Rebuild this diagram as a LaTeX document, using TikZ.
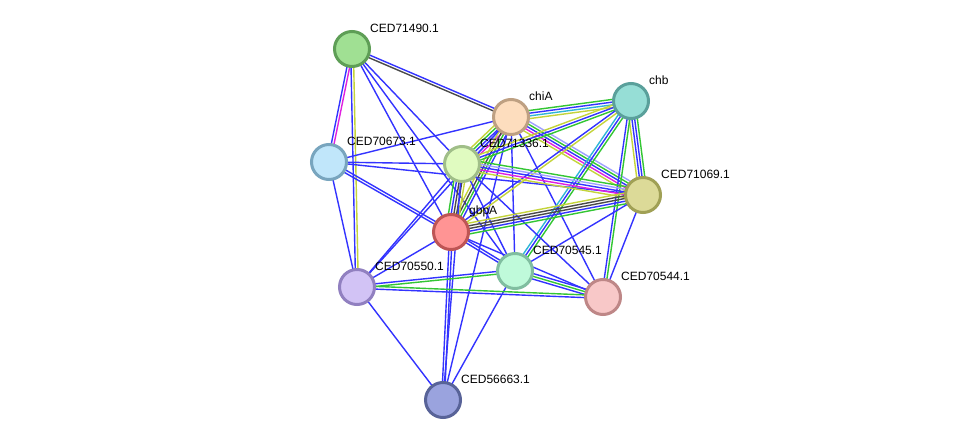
\documentclass[tikz,border=0pt]{standalone}
\usepackage{fontspec}
\setmainfont{Liberation Sans}
\usetikzlibrary{calc,backgrounds}
\definecolor{sblue}{HTML}{3333FF}
\definecolor{sgreen}{HTML}{33C633}
\definecolor{syel}{HTML}{C4D43A}
\definecolor{sgray}{HTML}{4A4A4A}
\definecolor{smag}{HTML}{E020E0}
\definecolor{scyan}{HTML}{2FB6D6}
\definecolor{slav}{HTML}{A0A0FF}
% one coloured line per evidence channel, side by side
\newcommand{\edge}[3]{%
  \foreach \c [count=\k] in {#3} {\xdef\ncol{\k}}%
  \foreach \c [count=\k] in {#3} {%
    \pgfmathsetmacro\off{(\k-(\ncol+1)/2)*2.7}%
    \draw[\c, line width=1.4pt] ($(#1)!\off pt!90:(#2)$) -- ($(#2)!\off pt!-90:(#1)$);
  }}

\begin{document}
\begin{tikzpicture}[x=1pt, y=-1pt,
  prot/.style={circle, minimum size=35pt, inner sep=0pt, line width=3pt},
  plabel/.style={anchor=west, font=\fontsize{12}{14}\selectfont, inner sep=0pt}]
 \useasboundingbox (0,0) rectangle (976,446);
 \node[prot, fill={rgb,255:red,160;green,224;blue,147}, draw={rgb,255:red,94;green,158;blue,86}] (c71490) at (352,49) {};
 \node[prot, fill={rgb,255:red,253;green,221;blue,190}, draw={rgb,255:red,190;green,160;blue,130}] (chiA) at (511,117) {};
 \node[prot, fill={rgb,255:red,150;green,222;blue,214}, draw={rgb,255:red,90;green,160;blue,155}] (chb) at (631,101) {};
 \node[prot, fill={rgb,255:red,192;green,230;blue,250}, draw={rgb,255:red,120;green,165;blue,190}] (c70673) at (329,162) {};
 \node[prot, fill={rgb,255:red,224;green,251;blue,192}, draw={rgb,255:red,160;green,190;blue,136}] (c71336) at (462,164) {};
 \node[prot, fill={rgb,255:red,220;green,218;blue,152}, draw={rgb,255:red,160;green,160;blue,85}] (c71069) at (643,195) {};
 \node[prot, fill={rgb,255:red,255;green,148;blue,148}, draw={rgb,255:red,190;green,85;blue,85}] (gbpA) at (451,232) {};
 \node[prot, fill={rgb,255:red,191;green,250;blue,218}, draw={rgb,255:red,128;green,190;blue,160}] (c70545) at (515,271) {};
 \node[prot, fill={rgb,255:red,210;green,195;blue,245}, draw={rgb,255:red,145;green,128;blue,192}] (c70550) at (357,287) {};
 \node[prot, fill={rgb,255:red,248;green,200;blue,200}, draw={rgb,255:red,190;green,135;blue,135}] (c70544) at (603,297) {};
 \node[prot, fill={rgb,255:red,154;green,163;blue,222}, draw={rgb,255:red,88;green,99;blue,152}] (c56663) at (443,400) {};
 \foreach \n/\t in {c71490/CED71490.1, chiA/chiA, chb/chb, c70673/CED70673.1, c71336/CED71336.1,
   c71069/CED71069.1, gbpA/gbpA, c70545/CED70545.1, c70550/CED70550.1, c70544/CED70544.1, c56663/CED56663.1}
   \node[plabel] (\n-l) at ($(\n)+(18,-21)$) {\t};
 \begin{scope}[on background layer]
  \fill[white] (0,0) rectangle (976,446);
  \edge{c71490}{c70673}{sblue,smag}
  \edge{c71490}{c70550}{sblue,syel}
  \edge{c71490}{chiA}{sgray,sblue}
  \edge{c71490}{c71336}{sblue}
  \edge{c71490}{gbpA}{sblue}
  \edge{c71490}{c70545}{sblue}
  \edge{c70673}{chiA}{sblue}
  \edge{c70673}{c71336}{sblue}
  \edge{c70673}{c71069}{sblue}
  \edge{c70673}{gbpA}{sblue,sblue}
  \edge{c70673}{c70550}{sblue}
  \edge{chiA}{chb}{syel,scyan,sblue,sgreen}
  \edge{chiA}{c71069}{syel,smag,sblue,sgreen,slav}
  \edge{chiA}{c71336}{syel,sgreen,sblue,slav,smag}
  \edge{chiA}{gbpA}{syel,sgray,sgreen,sblue}
  \edge{chiA}{c70545}{sblue}
  \edge{chiA}{c70544}{sblue}
  \edge{chiA}{c70550}{sblue}
  \edge{chiA}{c56663}{sblue}
  \edge{chb}{c71336}{syel,sblue,sgreen}
  \edge{chb}{gbpA}{sblue,syel}
  \edge{chb}{c71069}{syel,sblue,sblue,sgreen}
  \edge{chb}{c70544}{sblue,sgreen}
  \edge{chb}{c70545}{scyan,sblue,sgreen}
  \edge{c71336}{c71069}{syel,smag,sblue,slav,sgreen}
  \edge{c71336}{gbpA}{sgreen,sblue,sgray,sgray,syel}
  \edge{c71336}{c70545}{sblue}
  \edge{c71336}{c70544}{sblue}
  \edge{c71336}{c70550}{sblue}
  \edge{c71336}{c56663}{sblue}
  \edge{gbpA}{c71069}{sgreen,sblue,sgray,sgray,syel}
  \edge{gbpA}{c70545}{sblue,sblue}
  \edge{gbpA}{c70544}{sblue}
  \edge{gbpA}{c70550}{sblue}
  \edge{gbpA}{c56663}{sblue,sblue}
  \edge{c71069}{c70545}{sblue}
  \edge{c71069}{c70544}{sblue}
  \edge{c70545}{c70544}{sblue,sgreen,sblue}
  \edge{c70545}{c70550}{sblue,sgreen}
  \edge{c70545}{c56663}{sblue}
  \edge{c70550}{c70544}{sblue,sgreen}
  \edge{c70550}{c56663}{sblue}
 \end{scope}
\end{tikzpicture}
\end{document}
